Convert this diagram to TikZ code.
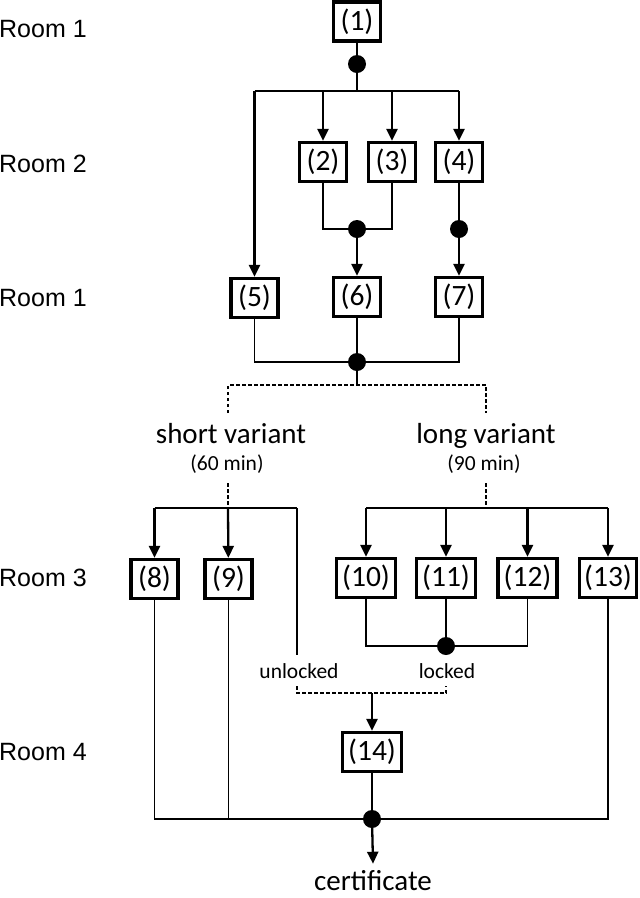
\documentclass[tikz,border=0pt]{standalone}
\usepackage{fontspec}
\setmainfont{Carlito}
\newfontfamily\roomfont{Liberation Sans}
\usetikzlibrary{arrows.meta}
\begin{document}
\begin{tikzpicture}[x=1pt,y=-1pt,
 box/.style={draw,line width=3.2pt,minimum width=47pt,minimum height=39pt,inner sep=0pt,font=\fontsize{29.5}{31}\selectfont},
 wbox/.style={box,minimum width=59pt},
 dot/.style={circle,fill,inner sep=0pt,minimum size=18pt},
 fine/.style={line width=1.2pt},
 bold/.style={line width=2.1pt},
 arr/.style={line width=2.3pt,-{Triangle[length=12pt,width=11pt]}},
 dsh/.style={line width=1.2pt,dash pattern=on 3.5pt off 2.5pt},
 room/.style={anchor=west,font=\roomfont\fontsize{25}{28}\selectfont,inner sep=0pt},
 lab/.style={font=\fontsize{29}{32}\selectfont,inner sep=0pt},
 smalllab/.style={font=\fontsize{21.5}{24}\selectfont,inner sep=0pt}]
\useasboundingbox (0,0) rectangle (640,898);

% room labels
\node[room] (r1) at (-1,29) {Room 1};
\node[room] (r2) at (-1,164) {Room 2};
\node[room] (r1b) at (-1,298) {Room 1};
\node[room] (r3) at (-1,578) {Room 3};
\node[room] (r4) at (-1,752) {Room 4};

% boxes
\node[box] (n1) at (357,21.5) {(1)};
\node[box] (n2) at (323,162) {(2)};
\node[box] (n3) at (392,162) {(3)};
\node[box] (n4) at (459,162) {(4)};
\node[box] (n5) at (254.5,298) {(5)};
\node[box] (n6) at (357,297) {(6)};
\node[box] (n7) at (459,297) {(7)};
\node[box] (n8) at (154.5,579) {(8)};
\node[box] (n9) at (228.5,579) {(9)};
\node[wbox] (n10) at (366,578) {(10)};
\node[wbox] (n11) at (446,578) {(11)};
\node[wbox] (n12) at (527.5,578) {(12)};
\node[wbox,minimum width=57pt] (n13) at (608,578) {(13)};
\node[wbox] (n14) at (372,752) {(14)};

% junction dots
\node[dot] (d1) at (357,64) {};
\node[dot] (d2) at (357,229) {};
\node[dot] (d3) at (459,229) {};
\node[dot] (d4) at (357,362) {};
\node[dot] (d5) at (446,646) {};
\node[dot] (d6) at (372,819) {};

% text labels
\node[lab,anchor=base] (short) at (231,443) {short variant};
\node[smalllab] (sd) at (227,464.5) {(60 min)};
\node[lab,anchor=base] (long) at (486,443) {long variant};
\node[smalllab] (ld) at (484,464.5) {(90 min)};
\node[smalllab,anchor=base] (unl) at (299,678) {unlocked};
\node[smalllab,anchor=base] (lck) at (447,678) {locked};
\node[lab,anchor=base] (cert) at (373,890) {certificate};

% coordinates
\coordinate (s1) at (357,91);
\coordinate (s1l) at (254.5,91);
\coordinate (s1r) at (459,91);
\coordinate (v1) at (357,385);
\coordinate (vl) at (228,385);
\coordinate (vr) at (486,385);
\coordinate (vlb) at (228,413);
\coordinate (vrb) at (486,413);
\coordinate (vlc) at (228,483);
\coordinate (vrc) at (486,483);
\coordinate (lb) at (228,508);
\coordinate (l8) at (154.5,508);
\coordinate (lu) at (297,508);
\coordinate (lu2) at (297,655);
\coordinate (lu3) at (297,686);
\coordinate (ulb) at (297,693);
\coordinate (lkb) at (446,693);
\coordinate (lk3) at (446,686);
\coordinate (mid) at (372,693);
\coordinate (rb) at (486,508);
\coordinate (rl) at (366,508);
\coordinate (rr) at (608,508);

% top part
\draw[fine] (n1) -- (d1);
\draw[bold] (d1) -- (s1);
\draw[bold] (s1l) -- (s1r);
\draw[arr] (s1l) -- (n5);
\draw[arr] (n2 |- s1) -- (n2);
\draw[arr] (n3 |- s1) -- (n3);
\draw[arr] (s1r) -- (n4);
\draw[fine] (n2) -- (n2 |- d2) -- (n3 |- d2) -- (n3);
\draw[arr] (d2) -- (n6);
\draw[bold] (n4) -- (d3);
\draw[arr] (d3) -- (n7);
\draw[fine] (n5) -- (n5 |- d4) -- (n7 |- d4) -- (n7);
\draw[fine] (n6) -- (d4);
\draw[fine] (d4) -- (v1);
\draw[dsh] (vlb) -- (vl) -- (vr) -- (vrb);
\draw[dsh] (vlc) -- (lb);
\draw[dsh] (vrc) -- (rb);

% short variant
\draw[bold] (l8) -- (lu);
\draw[arr] (l8) -- (n8);
\draw[arr] (lb) -- (n9);
\draw[fine] (lu) -- (lu2);
\draw[dsh] (lu3) -- (ulb) -- (lkb) -- (lk3);
\draw[arr] (mid) -- (n14);

% long variant
\draw[bold] (rl) -- (rr);
\draw[arr] (rl) -- (n10);
\draw[arr] (n11 |- rb) -- (n11);
\draw[arr] (n12 |- rb) -- (n12);
\draw[arr] (rr) -- (n13);
\draw[fine] (n10) -- (n10 |- d5) -- (n12 |- d5) -- (n12);
\draw[fine] (n11) -- (d5);

% final
\draw[fine] (n8) -- (n8 |- d6) -- (n13 |- d6) -- (n13);
\draw[fine] (n9) -- (n9 |- d6);
\draw[fine] (n14) -- (d6);
\draw[arr] (d6) -- ([yshift=6pt]cert.north);
\end{tikzpicture}
\end{document}
